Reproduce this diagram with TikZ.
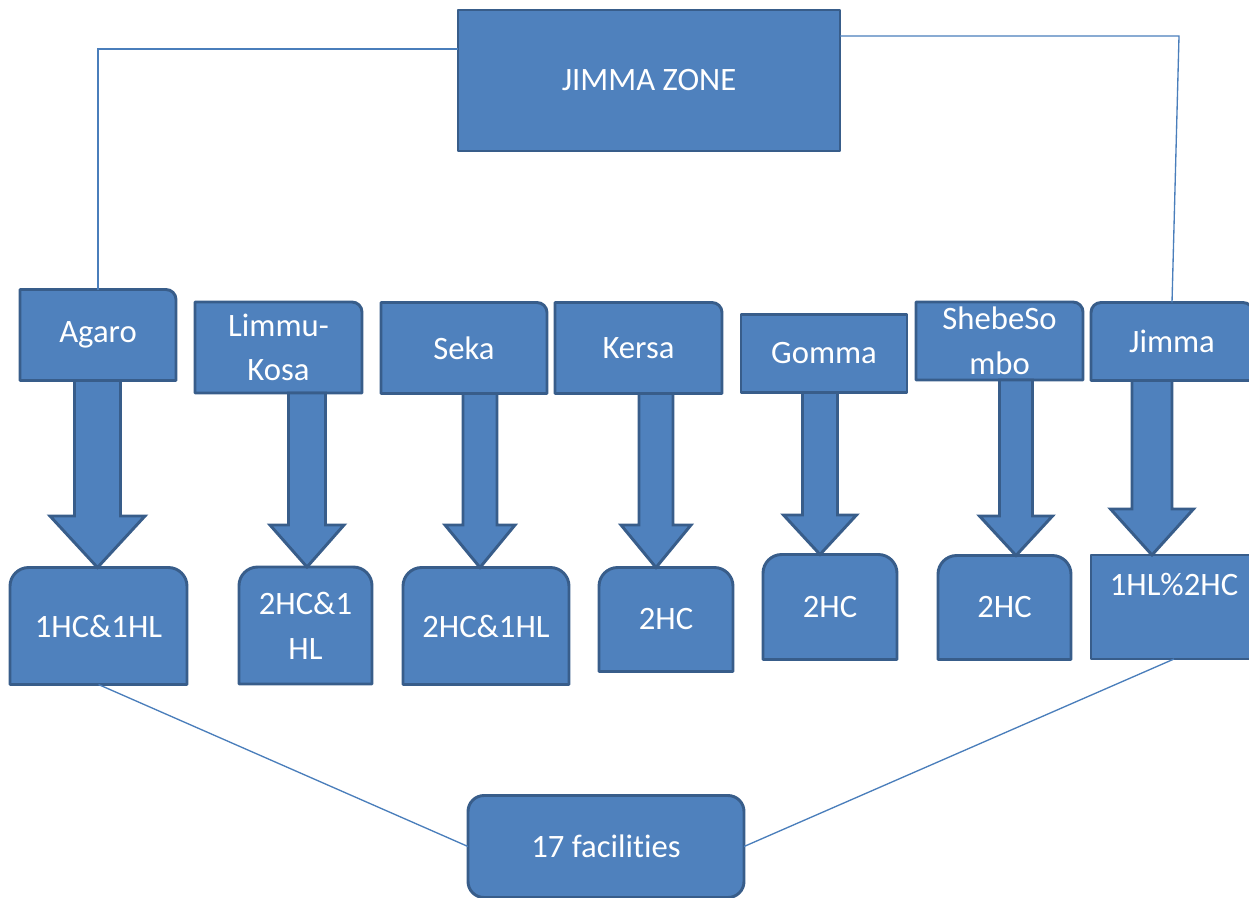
\documentclass[tikz,border=0pt]{standalone}
\usepackage{fontspec}
\setmainfont{Carlito}[Ligatures=NoCommon]
\usetikzlibrary{backgrounds}
\definecolor{boxblue}{HTML}{4F81BD}
\definecolor{boxedge}{HTML}{385D8A}
\definecolor{linkblue}{HTML}{4A7EBB}

% box outlines with some corners rounded
\newcommand{\boxtr}[2]{\draw[shp] (#1.south west) -- (#1.north west) -- ([xshift=-#2]#1.north east) arc[start angle=90, end angle=0, radius=#2] -- (#1.south east) -- cycle;}
\newcommand{\boxtl}[2]{\draw[shp] (#1.south east) -- (#1.north east) -- ([xshift=#2]#1.north west) arc[start angle=90, end angle=180, radius=#2] -- (#1.south west) -- cycle;}
\newcommand{\boxtop}[2]{\draw[shp] (#1.south west) -- ([yshift=-#2]#1.north west) arc[start angle=180, end angle=90, radius=#2] -- ([xshift=-#2]#1.north east) arc[start angle=90, end angle=0, radius=#2] -- (#1.south east) -- cycle;}

\begin{document}
\begin{tikzpicture}[x=0.75pt, y=0.75pt,
  lbl/.style={text=white, inner sep=0pt, outer sep=0pt, align=center, font=\fontsize{24.5}{33.5}\selectfont},
  sz/.style 2 args={minimum width=#1*0.75pt, minimum height=#2*0.75pt},
  shp/.style={fill=boxblue, draw=boxedge, line width=2.2pt, line join=round},
  link/.style={draw=linkblue, line width=1pt}]

\useasboundingbox (0,0) rectangle (1249,-897);

% zone
\node[lbl, sz={382}{141}] (zone) at (649,-80.5) {JIMMA ZONE};

% districts
\node[lbl, sz={156}{91}] (agaro) at (98,-335) {Agaro};
\node[lbl, sz={167}{91}] (limmu) at (278.5,-347.5) {Limmu-\\Kosa};
\node[lbl, sz={166}{91}] (seka) at (464,-348) {Seka};
\node[lbl, sz={167}{91}] (kersa) at (638.5,-348) {Kersa};
\node[lbl, sz={166}{78}] (gomma) at (824,-353.5) {Gomma};
\node[lbl, sz={167}{78}] (shebe) at (999.5,-341) {ShebeSo\\mbo};
\node[lbl, sz={162}{78}] (jimma) at (1172,-341.5) {Jimma};

% facilities per district
\node[lbl, sz={177}{117}] (hca) at (98.5,-626) {1HC\&1HL};
\node[lbl, sz={133}{117}] (hcb) at (305.5,-625.5) {2HC\&1\\HL};
\node[lbl, sz={166}{117}] (hcc) at (486,-626) {2HC\&1HL};
\node[lbl, sz={134}{104}] (hcd) at (666,-619.5) {2HC};
\node[lbl, sz={134}{105}] (hce) at (830,-607) {2HC};
\node[lbl, sz={133}{104}] (hcf) at (1004.5,-607.5) {2HC};
\node[lbl, sz={166}{104}] (hcg) at (1174,-607) {1HL\%2HC\\\mbox{}};

% total
\node[lbl, sz={276}{102}] (fac) at (606,-846.5) {17 facilities};

\begin{scope}[on background layer]
\draw[shp] (zone.south west) rectangle (zone.north east);
\boxtr{agaro}{7.5pt}
\boxtr{limmu}{7.5pt}
\boxtr{seka}{7.5pt}
\boxtr{kersa}{7.5pt}
\draw[shp] (gomma.south west) rectangle (gomma.north east);
\boxtr{shebe}{7.5pt}
\boxtop{jimma}{7.5pt}
\boxtop{hca}{14pt}
\boxtop{hcb}{14pt}
\boxtop{hcc}{14pt}
\boxtop{hcd}{14pt}
\boxtop{hce}{14pt}
\boxtop{hcf}{14pt}
\draw[shp] (hcg.south west) rectangle (hcg.north east);
\draw[shp, rounded corners=12pt] (fac.south west) rectangle (fac.north east);

% block arrows
\foreach \a/\b/\x/\w/\h/\y in {agaro/hca/97.5/23/47.5/516, limmu/hcb/307/18.5/37/525,
    seka/hcc/480/17/35/525, kersa/hcd/656/17/35/525, gomma/hce/820/17.5/36.5/515,
    shebe/hcf/1016/16.5/36.5/516, jimma/hcg/1152/20/41.5/509}
  \draw[shp, line join=miter] (\x-\w,0 |- \a.south) -- (\x+\w,0 |- \a.south) -- (\x+\w,-\y) -- (\x+\h,-\y)
    -- (\x,0 |- \b.north) -- (\x-\h,-\y) -- (\x-\w,-\y) -- cycle;
\end{scope}

% thin links
\draw[link] (zone.west |- 0,-49) -| (agaro.north);
\draw[link] (zone.east |- 0,-36) -- (1179,-36) -- (jimma.north);
\draw[link] (hca.south) -- (fac.west);
\draw[link] (hcg.south) -- (fac.east);

\end{tikzpicture}
\end{document}
